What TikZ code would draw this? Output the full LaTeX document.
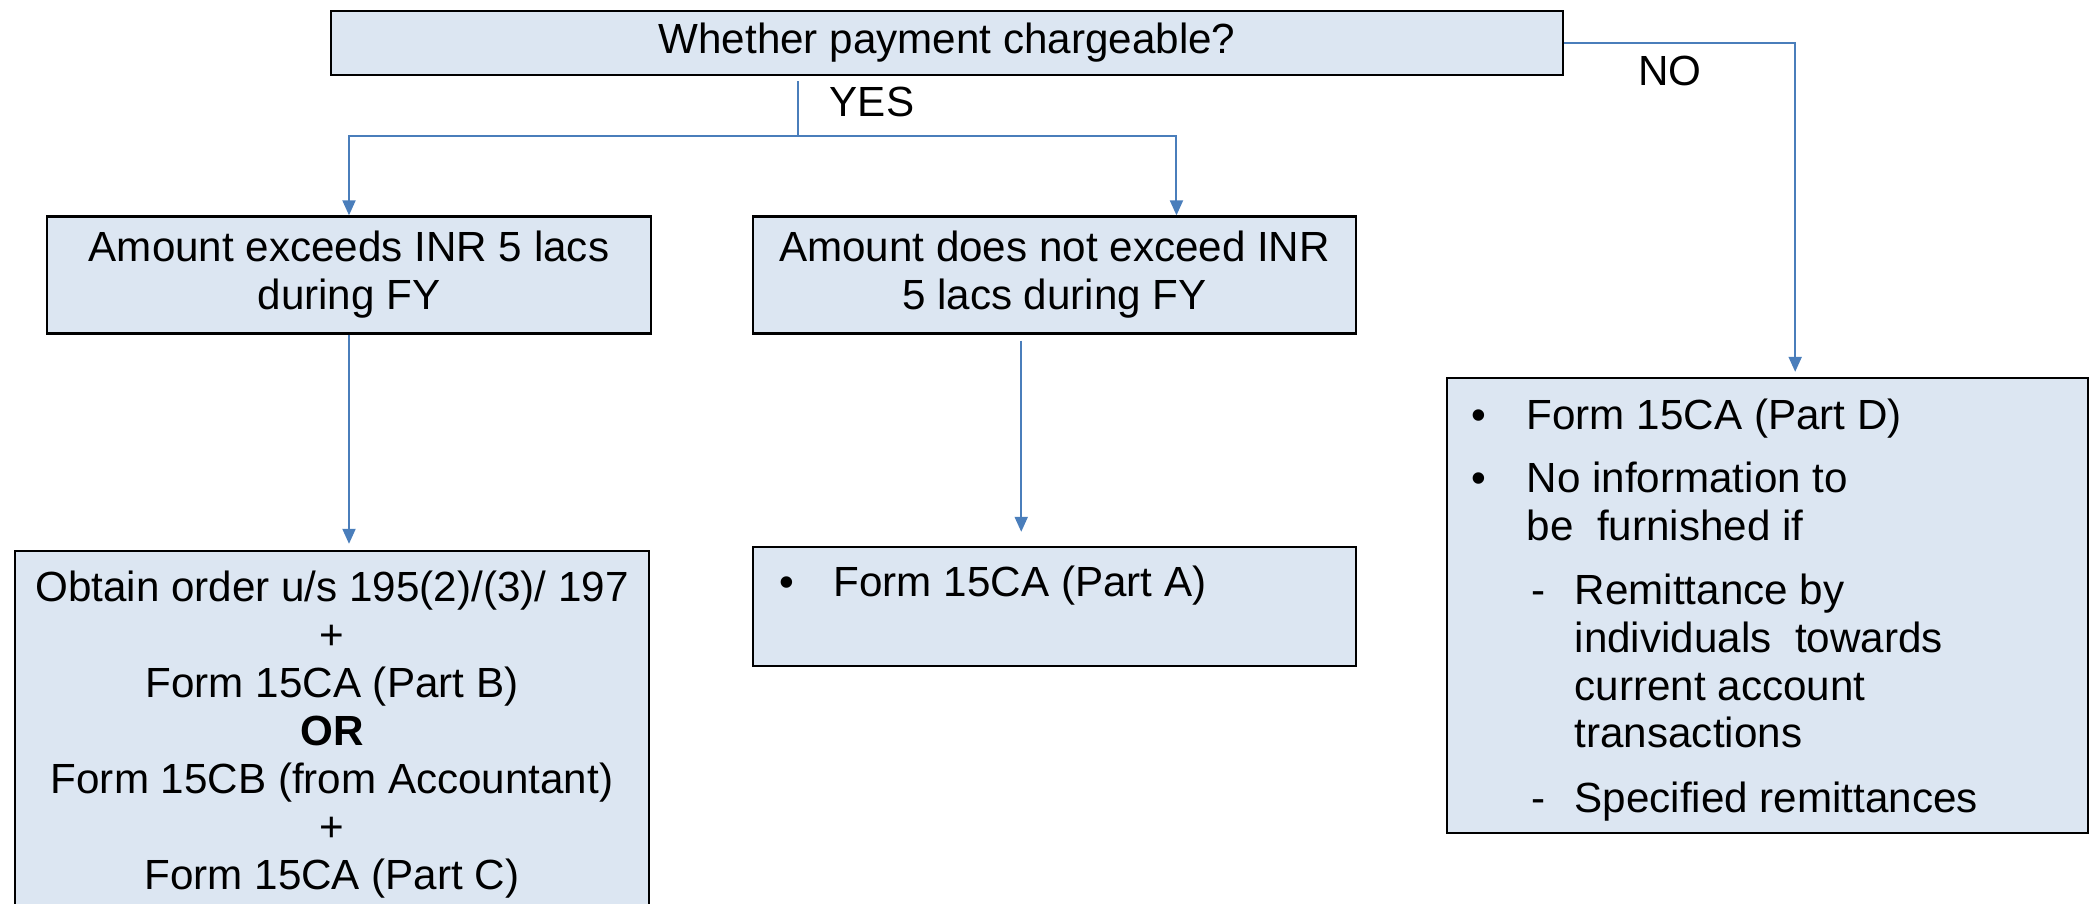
\documentclass[tikz,border=0pt]{standalone}
\usepackage{fontspec}
\setmainfont{Liberation Sans}
\usetikzlibrary{arrows.meta,calc}
\definecolor{boxfill}{HTML}{DCE6F2}
\definecolor{flowblue}{HTML}{4A7EBB}

\begin{document}
\begin{tikzpicture}[x=0.1mm,y=-0.1mm,
  every node/.style={font=\fontsize{12pt}{13.66pt}\selectfont},
  box/.style={draw=black, line width=0.23mm, fill=boxfill, inner sep=0pt, align=center},
  flow/.style={draw=flowblue, line width=0.2mm},
  arr/.style={flow, -{Triangle[length=1.5mm,width=1.3mm]}},
  txtline/.style={anchor=base west, inner sep=0pt},
  lbl/.style={anchor=base, inner sep=0pt}
]
\useasboundingbox (0,0) rectangle (2095,904);
\clip (0,0) rectangle (2095,904);

% decision and outcome boxes
\node[box, minimum width=123.2mm, minimum height=6.4mm] (top) at (947,43) {Whether payment chargeable?};
\node[box, minimum width=60.4mm, minimum height=11.7mm] (amt1) at (349,275) {Amount exceeds INR 5 lacs\\during FY};
\node[box, minimum width=60.3mm, minimum height=11.7mm] (amt2) at (1054.5,275) {Amount does not exceed INR\\5 lacs during FY};
\node[box, minimum width=63.4mm, minimum height=36.8mm] (obtain) at (332,735)
  {Obtain order u/s 195(2)/(3)/ 197\\+\\Form 15CA (Part B)\\\textbf{OR}\\Form 15CB (from Accountant)\\+\\Form 15CA (Part C)};
\node[box, minimum width=60.3mm, minimum height=11.9mm] (partA) at (1054.5,606.5) {};
\node[box, minimum width=64.1mm, minimum height=45.5mm] (rbox) at (1767.5,605.5) {};

% bulleted contents
\node[txtline] (pa1) at (779,597) {\textbullet};
\node[txtline] (pa2) at (833,597) {Form 15CA (Part A)};

\node[txtline] (rb1) at (1471,430) {\textbullet};
\node[txtline] (rt1) at (1526,430) {Form 15CA (Part D)};
\node[txtline] (rb2) at (1471,493) {\textbullet};
\node[txtline] (rt2) at (1526,493) {No information to};
\node[txtline] (rt3) at (1526,541) {be\ \ furnished if};
\node[txtline] (rd1) at (1531,605) {-};
\node[txtline] (rt4) at (1574,605) {Remittance by};
\node[txtline] (rt5) at (1574,653) {individuals\ \ towards};
\node[txtline] (rt6) at (1574,701) {current account};
\node[txtline] (rt7) at (1574,748) {transactions};
\node[txtline] (rd2) at (1531,813) {-};
\node[txtline] (rt8) at (1574,813) {Specified remittances};

% branch labels
\node[lbl] (yes) at (872,117) {YES};
\node[lbl] (no) at (1670,86) {NO};

% connector points
\coordinate (ys) at ($(top.south west)+(468,5)$);
\coordinate (yj) at (ys |- 0,136);
\coordinate (m2in) at ($(amt2.north west)!0.7015!(amt2.north east)$);
\coordinate (m2out) at ($(amt2.south west)!0.445!(amt2.south east)$);
\coordinate (nin) at ($(rbox.north west)!0.543!(rbox.north east)$);

% YES branch
\draw[flow] (ys) -- (yj);
\draw[arr] (yj) -| (amt1.north);
\draw[arr] (yj) -| (m2in);
\draw[arr, shorten >=3\pgflinewidth] (amt1.south) -- (amt1.south |- obtain.north);
\draw[arr, shorten <=0.6mm, shorten >=1.4mm] (m2out) -- (m2out |- partA.north);

% NO branch
\draw[arr, shorten >=0.5mm] (top.east) -| (nin);
\end{tikzpicture}
\end{document}
